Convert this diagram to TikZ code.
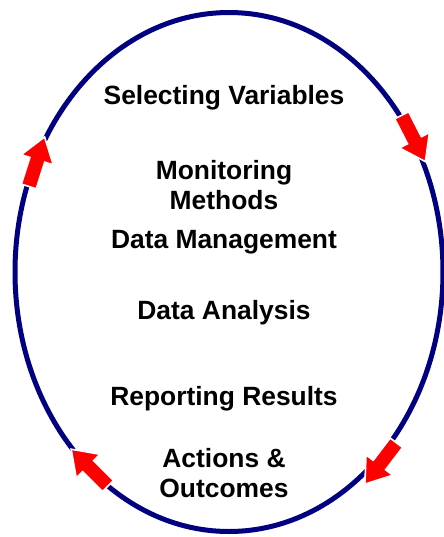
\documentclass[tikz,border=0pt]{standalone}
\usepackage{fontspec}
\setmainfont{Liberation Sans}
\usetikzlibrary{shapes.geometric,shapes.arrows}
\tikzset{
  ring/.style={
    % The shape:
    ellipse,inner sep=0pt,
    % The size:
    minimum width=214pt,minimum height=259.5pt,
    % The border:
    line width=2.5pt,draw=navyblue
  }}
\tikzset{
	turn/.style={
		% The shape:
		single arrow,single arrow tip angle=70,
		single arrow head extend=4.5pt,inner sep=3.5pt,
		minimum height=26pt,
		% The rest
		fill=red,draw=white,line width=0.8pt}}
\tikzset{
	stage/.style={
		align=center,font=\bfseries\fontsize{13.2}{15}\selectfont}}
\definecolor{navyblue}{RGB}{0,0,128}

\begin{document}
\begin{tikzpicture}[x=0.5pt,y=-0.5pt]
	\useasboundingbox (0,0) rectangle (444,537);
	\node[ring] (cycle) at (229,272) {};
	% Arrows round the cycle
	\node[turn,rotate=-62.9] (right) at (411,133.5) {};
	\node[turn,rotate=-127.3] (low) at (384,459) {};
	\node[turn,rotate=135] (left) at (93.5,471.5) {};
	\node[turn,rotate=72.3] (up) at (35,167) {};
	% Stages
	\node[stage] (select) at (224,98) {Selecting Variables};
	\node[stage] (monitor) at (224,185) {Monitoring\\Methods};
	\node[stage] (manage) at (224,242) {Data Management};
	\node[stage] (analyse) at (224,313) {Data Analysis};
	\node[stage] (report) at (224,399) {Reporting Results};
	\node[stage] (act) at (224,473) {Actions \&\\Outcomes};
\end{tikzpicture}
\end{document}
